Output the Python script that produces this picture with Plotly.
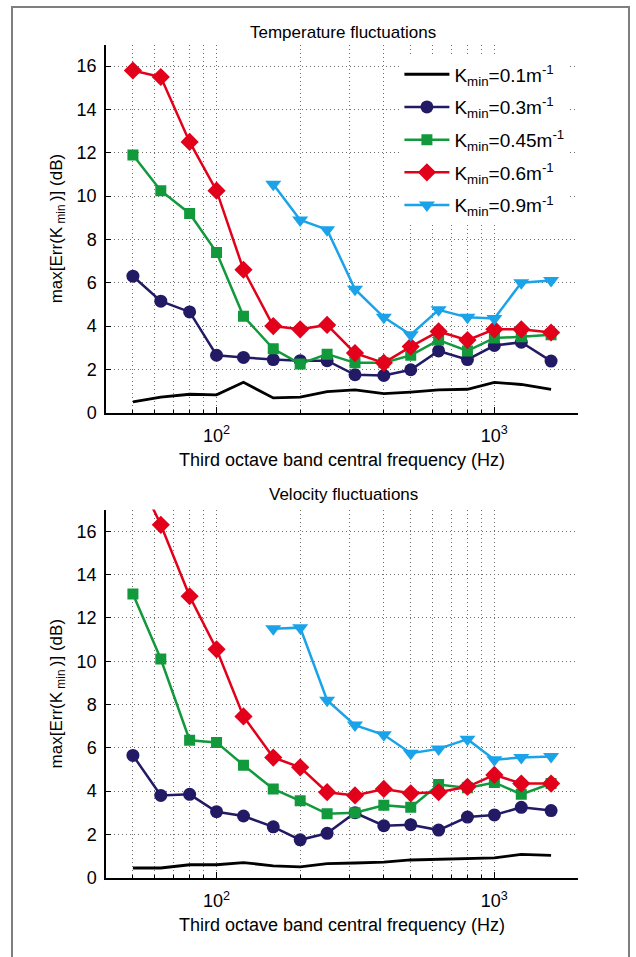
import plotly.graph_objects as go

# third-octave band centre frequencies (Hz)
freq = [50, 63, 80, 100, 125, 160, 200, 250, 315, 400, 500, 630, 800, 1000, 1250, 1600]
freq_hi = [160, 200, 250, 315, 400, 500, 630, 800, 1000, 1250, 1600]

# Temperature fluctuations
temp_k01 = [0.5, 0.72, 0.85, 0.82, 1.4, 0.68, 0.72, 0.97, 1.05, 0.88, 0.95, 1.05, 1.08, 1.4, 1.3, 1.08]
temp_k03 = [6.3, 5.15, 4.65, 2.65, 2.55, 2.45, 2.4, 2.4, 1.75, 1.72, 1.98, 2.85, 2.45, 3.1, 3.25, 2.38]
temp_k045 = [11.9, 10.25, 9.2, 7.4, 4.45, 2.95, 2.25, 2.7, 2.3, 2.3, 2.65, 3.35, 2.85, 3.45, 3.5, 3.6]
temp_k06 = [15.8, 15.5, 12.5, 10.25, 6.6, 4.0, 3.85, 4.05, 2.75, 2.3, 3.05, 3.75, 3.35, 3.85, 3.85, 3.7]
temp_k09 = [10.55, 8.9, 8.45, 5.7, 4.4, 3.6, 4.75, 4.4, 4.35, 6.0, 6.1]

# Velocity fluctuations
vel_k01 = [0.45, 0.45, 0.6, 0.6, 0.7, 0.55, 0.5, 0.65, 0.68, 0.72, 0.82, 0.85, 0.88, 0.92, 1.08, 1.03]
vel_k03 = [5.65, 3.8, 3.85, 3.05, 2.85, 2.35, 1.75, 2.05, 3.0, 2.4, 2.45, 2.2, 2.8, 2.9, 3.25, 3.1]
vel_k045 = [13.1, 10.1, 6.35, 6.25, 5.2, 4.1, 3.55, 2.95, 3.0, 3.35, 3.25, 4.3, 4.15, 4.4, 3.85, 4.35]
vel_k06 = [19.0, 16.3, 13.0, 10.55, 7.45, 5.55, 5.1, 3.95, 3.8, 4.1, 3.9, 3.95, 4.2, 4.75, 4.35, 4.35]
vel_k09 = [11.5, 11.55, 8.2, 7.05, 6.6, 5.75, 5.95, 6.4, 5.45, 5.55, 5.6]

names = ["K<sub>min</sub>=0.1m<sup>-1</sup>", "K<sub>min</sub>=0.3m<sup>-1</sup>",
         "K<sub>min</sub>=0.45m<sup>-1</sup>", "K<sub>min</sub>=0.6m<sup>-1</sup>",
         "K<sub>min</sub>=0.9m<sup>-1</sup>"]
colors = ["#000000", "#231a66", "#12993b", "#e2001a", "#1aa3e8"]
symbols = [None, "circle", "square", "diamond", "triangle-down"]
msizes = [0, 13, 11, 14, 14]

y_tick_vals = [0, 2, 4, 6, 8, 10, 12, 14, 16]
x_major_vals = [100, 1000]
x_major_text = ["10<sup>2</sup>", "10<sup>3</sup>"]
x_minor_vals = [40, 50, 60, 70, 80, 90, 200, 300, 400, 500, 600, 700, 800, 900, 2000]

FONT = "Liberation Sans, Arial, sans-serif"
GRIDC = "#6e6e6e"
GDASH = "1px,3px"
fig = go.Figure()

panels = [
    (temp_k01, temp_k03, temp_k045, temp_k06, temp_k09, "x", "y", True),
    (vel_k01, vel_k03, vel_k045, vel_k06, vel_k09, "x2", "y2", False),
]
for (k01, k03, k045, k06, k09, xa, ya, leg) in panels:
    series = [(freq, k01), (freq, k03), (freq, k045), (freq, k06), (freq_hi, k09)]
    for i, (xs, ys) in enumerate(series):
        if i == 0:
            fig.add_trace(go.Scatter(x=xs, y=ys, mode="lines", name=names[i],
                                     line=dict(color=colors[i], width=2.8),
                                     xaxis=xa, yaxis=ya, showlegend=leg,
                                     legendgroup=str(i)))
        else:
            fig.add_trace(go.Scatter(x=xs, y=ys, mode="lines+markers", name=names[i],
                                     line=dict(color=colors[i], width=2.5),
                                     marker=dict(symbol=symbols[i], size=msizes[i], color=colors[i]),
                                     xaxis=xa, yaxis=ya, showlegend=leg,
                                     legendgroup=str(i)))

W, H = 636, 957
xdom = [106 / W, 578 / W]
ydom_top = [1 - 417 / H, 1 - 45 / H]
ydom_bot = [1 - 887 / H, 1 - 515 / H]

def xax(domain, anchor):
    return dict(domain=domain, anchor=anchor, type="log",
                range=[1.60206, 3.30103],
                tickmode="array", tickvals=x_major_vals, ticktext=x_major_text,
                ticks="inside", ticklen=6, tickcolor="black",
                minor=dict(tickmode="array", tickvals=x_minor_vals, ticks="inside", ticklen=3,
                           tickcolor="black", showgrid=True, gridcolor=GRIDC,
                           griddash=GDASH, gridwidth=1),
                showline=True, linecolor="black", linewidth=1.5,
                showgrid=True, gridcolor=GRIDC, griddash=GDASH, gridwidth=1,
                tickfont=dict(size=18, color="black", family=FONT),
                ticklabelstandoff=6,
                title=dict(text="Third octave band central frequency (Hz)",
                           font=dict(size=18, color="black", family=FONT), standoff=8),
                zeroline=False)

def yax(domain, anchor):
    return dict(domain=domain, anchor=anchor, range=[0, 17],
                tickmode="array", tickvals=y_tick_vals,
                ticks="inside", ticklen=5, tickcolor="black",
                showline=True, linecolor="black", linewidth=1.5,
                showgrid=True, gridcolor=GRIDC, griddash=GDASH, gridwidth=1,
                tickfont=dict(size=18, color="black", family=FONT),
                ticklabelstandoff=4,
                title=dict(text="max[Err(K<sub> min </sub>)] (dB)",
                           font=dict(size=17, color="black", family=FONT), standoff=10),
                zeroline=False)

fig.update_layout(
    width=W, height=H,
    margin=dict(l=0, r=0, t=0, b=0),
    paper_bgcolor="white", plot_bgcolor="white",
    font=dict(family=FONT, color="black"),
    xaxis=xax(xdom, "y"), yaxis=yax(ydom_top, "x"),
    xaxis2=xax(xdom, "y2"), yaxis2=yax(ydom_bot, "x2"),
    legend=dict(x=0.628, y=1 - 56 / H, xanchor="left", yanchor="top",
                bgcolor="white", borderwidth=0, tracegroupgap=5,
                font=dict(size=19, color="black", family=FONT), itemwidth=45),
    showlegend=True,
    annotations=[
        dict(text="Temperature fluctuations", x=343 / W, y=1 - 33 / H, xref="paper", yref="paper",
             showarrow=False, xanchor="center", yanchor="middle",
             font=dict(size=17, color="black", family=FONT)),
        dict(text="Velocity fluctuations", x=343 / W, y=1 - 500 / H, xref="paper", yref="paper",
             showarrow=False, xanchor="center", yanchor="middle",
             font=dict(size=17, color="black", family=FONT)),
    ],
    shapes=[dict(type="rect", xref="paper", yref="paper", x0=12 / W, x1=629 / W,
                 y0=-0.05, y1=1 - 7 / H, line=dict(color="#7f7f7f", width=2),
                 fillcolor="rgba(0,0,0,0)", layer="below")],
)

fig.write_html("out.html")
